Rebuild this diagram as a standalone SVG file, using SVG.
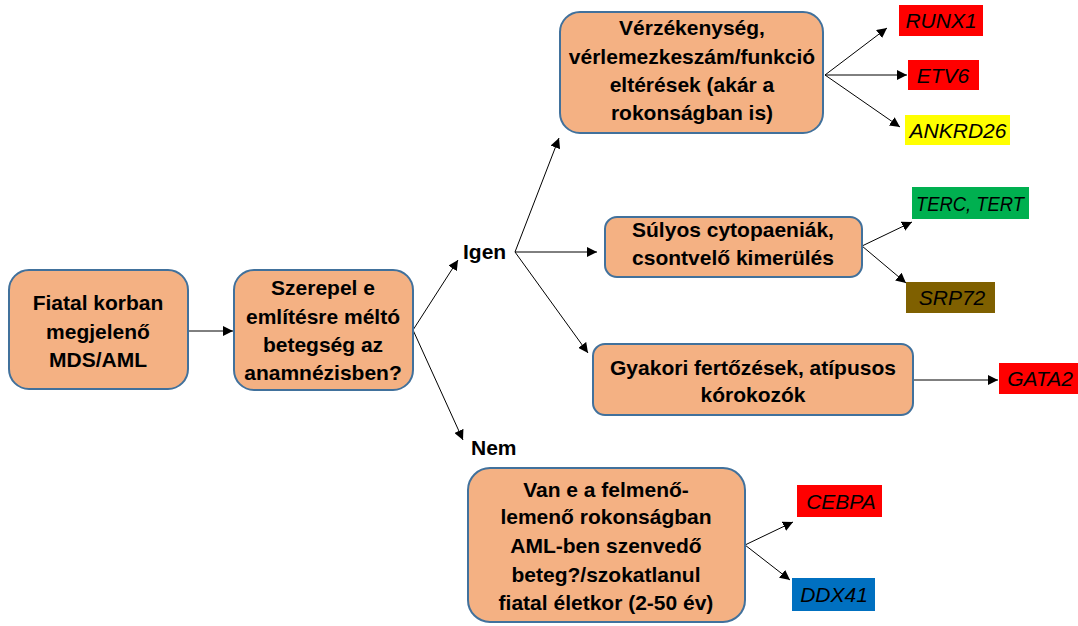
<svg xmlns="http://www.w3.org/2000/svg" width="1078" height="626" viewBox="0 0 1078 626">
  <style>
    .box { fill: #F4B183; stroke: #41719C; stroke-width: 2; }
    .t { font-family: "Liberation Sans", Arial, sans-serif; font-weight: bold; font-size: 21px; fill: #000; text-anchor: middle; }
    .g { font-family: "Liberation Sans", Arial, sans-serif; font-style: italic; font-size: 21px; fill: #000; text-anchor: middle; }
    .lbl { font-family: "Liberation Sans", Arial, sans-serif; font-weight: bold; font-size: 21px; fill: #000; }
    .c { stroke: #000; stroke-width: 1; fill: none; marker-end: url(#ah); }
  </style>
  <defs>
    <marker id="ah" viewBox="0 0 10 10" refX="10" refY="5" markerWidth="10" markerHeight="10" markerUnits="userSpaceOnUse" orient="auto">
      <path d="M0,0 L10,5 L0,10 Z" fill="#000"/>
    </marker>
  </defs>

  <rect width="1078" height="626" fill="#fff"/>

  <!-- connectors -->
  <g id="connectors">
    <line class="c" x1="188" y1="331" x2="233" y2="331"/>
    <line class="c" x1="413" y1="330" x2="458" y2="260"/>
    <line class="c" x1="413" y1="330" x2="463" y2="440"/>
    <line class="c" x1="515" y1="252" x2="559" y2="138"/>
    <line class="c" x1="515" y1="252" x2="597" y2="252"/>
    <line class="c" x1="515" y1="252" x2="588" y2="353"/>
    <line class="c" x1="825" y1="75" x2="887" y2="28"/>
    <line class="c" x1="825" y1="75" x2="907" y2="75"/>
    <line class="c" x1="825" y1="75" x2="900" y2="127"/>
    <line class="c" x1="862" y1="246" x2="912" y2="222"/>
    <line class="c" x1="862" y1="246" x2="906" y2="283"/>
    <line class="c" x1="913" y1="380" x2="998" y2="380"/>
    <line class="c" x1="745" y1="545" x2="793" y2="522"/>
    <line class="c" x1="745" y1="545" x2="790" y2="580"/>
  </g>

  <g id="start">
    <rect class="box" x="9" y="270" width="179" height="119" rx="20"/>
    <text class="t" x="98" y="310">Fiatal korban</text>
    <text class="t" x="98" y="339">megjelenő</text>
    <text class="t" x="98" y="367">MDS/AML</text>
  </g>

  <g id="question">
    <rect class="box" x="234" y="270" width="179" height="120" rx="20"/>
    <text class="t" x="323" y="295">Szerepel e</text>
    <text class="t" x="323" y="324">említésre méltó</text>
    <text class="t" x="323" y="352">betegség az</text>
    <text class="t" x="323" y="380">anamnézisben?</text>
  </g>

  <g id="igen"><text class="lbl" x="463" y="259">Igen</text></g>
  <g id="nem"><text class="lbl" x="471" y="455">Nem</text></g>

  <g id="bleeding">
    <rect class="box" x="560" y="12" width="263" height="121" rx="20"/>
    <text class="t" x="692" y="35">Vérzékenység,</text>
    <text class="t" x="692" y="64">vérlemezkeszám/funkció</text>
    <text class="t" x="692" y="92">eltérések (akár a</text>
    <text class="t" x="692" y="120">rokonságban is)</text>
  </g>

  <g id="cytopenia">
    <rect class="box" x="605" y="217" width="257" height="60" rx="12"/>
    <text class="t" x="733" y="237">Súlyos cytopaeniák,</text>
    <text class="t" x="733" y="265">csontvelő kimerülés</text>
  </g>

  <g id="infection">
    <rect class="box" x="593" y="344" width="320" height="71" rx="12"/>
    <text class="t" x="753" y="375">Gyakori fertőzések, atípusos</text>
    <text class="t" x="753" y="402">kórokozók</text>
  </g>

  <g id="family">
    <rect class="box" x="468" y="468" width="277" height="154" rx="22"/>
    <text class="t" x="606" y="497">Van e a felmenő-</text>
    <text class="t" x="606" y="524">lemenő rokonságban</text>
    <text class="t" x="606" y="553">AML-ben szenvedő</text>
    <text class="t" x="606" y="582">beteg?/szokatlanul</text>
    <text class="t" x="606" y="610">fiatal életkor (2-50 év)</text>
  </g>

  <g id="runx1">
    <rect x="899" y="5" width="84" height="31" fill="#FF0000"/>
    <text class="g" x="941" y="28">RUNX1</text>
  </g>
  <g id="etv6">
    <rect x="908" y="60" width="71" height="30" fill="#FF0000"/>
    <text class="g" x="943" y="83">ETV6</text>
  </g>
  <g id="ankrd26">
    <rect x="905" y="115" width="105" height="30" fill="#FFFF00"/>
    <text class="g" x="958" y="138">ANKRD26</text>
  </g>
  <g id="terc-tert">
    <rect x="912" y="187" width="117" height="32" fill="#00B050"/>
    <text class="g" x="970" y="211" textLength="108" lengthAdjust="spacingAndGlyphs">TERC, TERT</text>
  </g>
  <g id="srp72">
    <rect x="906" y="282" width="89" height="31" fill="#7F6000"/>
    <text class="g" x="952" y="305">SRP72</text>
  </g>
  <g id="gata2">
    <rect x="999" y="363" width="79" height="31" fill="#FF0000"/>
    <text class="g" x="1040" y="386">GATA2</text>
  </g>
  <g id="cebpa">
    <rect x="797" y="485" width="85" height="32" fill="#FF0000"/>
    <text class="g" x="841" y="509">CEBPA</text>
  </g>
  <g id="ddx41">
    <rect x="792" y="578" width="83" height="33" fill="#0070C0"/>
    <text class="g" x="834" y="602">DDX41</text>
  </g>
</svg>
